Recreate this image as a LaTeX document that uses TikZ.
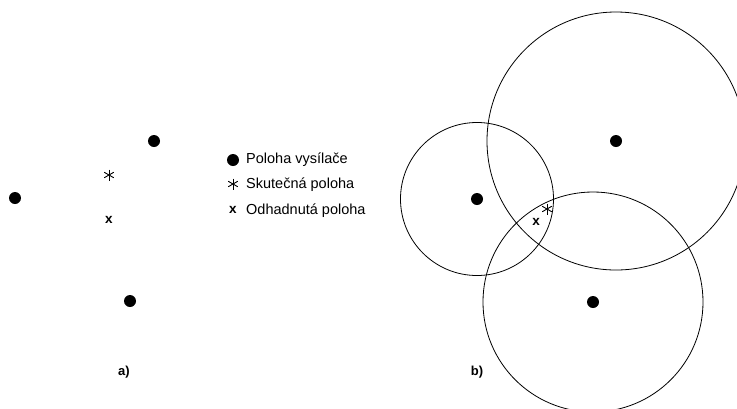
\documentclass[tikz,border=0pt]{standalone}
\usepackage{fontspec}
\setmainfont{Liberation Sans}
\usetikzlibrary{positioning}

\tikzset{
  vysilac/.style={circle,fill=black,inner sep=0pt,minimum size=12pt},
  skutecna/.style={inner sep=0pt,minimum size=11pt,
    path picture={
      \draw[line width=0.9pt] (path picture bounding box.north) -- (path picture bounding box.south);
      \draw[line width=0.9pt] (path picture bounding box.center) ++(30:5.5pt) -- ++(210:11pt);
      \draw[line width=0.9pt] (path picture bounding box.center) ++(150:5.5pt) -- ++(330:11pt);
    }},
  odhad/.style={inner sep=0pt,font=\fontsize{13.5}{14}\selectfont\bfseries},
  popis/.style={anchor=west,inner sep=0pt,font=\fontsize{14.5}{16}\selectfont},
  oznaceni/.style={inner sep=0pt,font=\fontsize{13}{13}\selectfont\bfseries},
  dosah/.style={draw=black,line width=0.8pt}
}

\begin{document}
\begin{tikzpicture}[x=1pt,y=-1pt]
  \useasboundingbox (0,0) rectangle (737,408);
  \clip (0,0) rectangle (737,408);

  % a) vysilace a poloha
  \node[vysilac] (a1) at (15,198) {};
  \node[vysilac] (a2) at (154,141) {};
  \node[vysilac] (a3) at (130,301) {};
  \node[skutecna] (as) at (109,175) {};
  \node[odhad] (ax) at (109,220) {x};
  \node[oznaceni] (a) at (124,372) {a)};

  % legenda
  \node[vysilac] (l1) at (233,160) {};
  \node[skutecna] (l2) at (233,184) {};
  \node[odhad] (l3) at (233,210) {x};
  \node[popis] (t1) at (246,160) {Poloha vysílače};
  \node[popis] (t2) at (246,185) {Skutečná poloha};
  \node[popis] (t3) at (246,211) {Odhadnutá poloha};

  % b) kruznice
  \node[vysilac] (b1) at (477,199) {};
  \node[vysilac] (b2) at (616,141) {};
  \node[vysilac] (b3) at (593,302) {};
  \draw[dosah] (b1) circle (76.5pt);
  \draw[dosah] (b2) circle (129pt);
  \draw[dosah] (b3) circle (110pt);
  \node[skutecna] (bs) at (547,209) {};
  \node[odhad] (bx) at (536,222) {x};
  \node[oznaceni] (b) at (477,372) {b)};
\end{tikzpicture}
\end{document}
